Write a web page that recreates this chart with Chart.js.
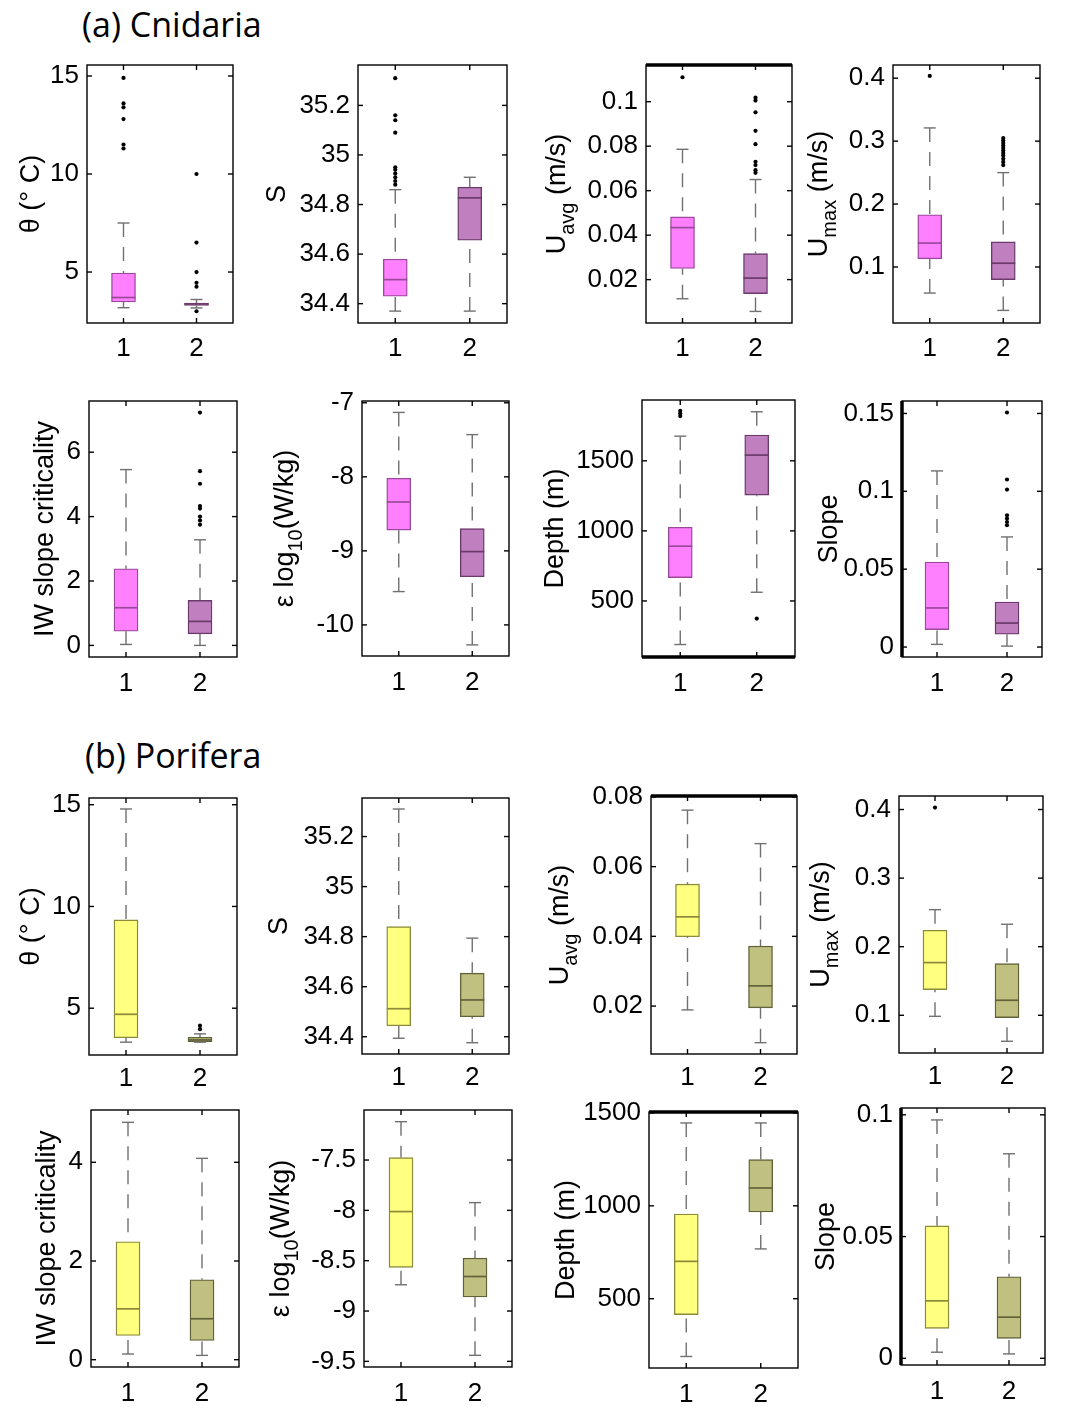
<!DOCTYPE html>
<html>
<head>
<meta charset="utf-8">
<script src="https://cdn.jsdelivr.net/npm/chart.js@4"></script>
<style>
    body { margin: 0; background: #fff; width: 1077px; height: 1407px; position: relative; overflow: hidden; }
    canvas { position: absolute; }
    .head { position: absolute; font-family: 'Open Sans', sans-serif; font-size: 34px; line-height: 40px; color: #000; white-space: nowrap; }
</style>
</head>
<body>
<div class="head" style="left:82px;top:4px">(a) Cnidaria</div>
<div class="head" style="left:85px;top:735px">(b) Porifera</div>
<script>
const groups = ['1', '2'];

// each box: [lower whisker, q1, median, q3, upper whisker]
// (a) Cnidaria
const aThetaBox = [[3.18, 3.47, 3.7, 4.95, 7.5], [3.17, 3.3, 3.37, 3.42, 3.6]];
const aThetaOut = [[14.9, 13.6, 13.4, 12.8, 11.5, 11.3], [10.0, 6.5, 5.0, 4.45, 4.25, 3.0]];
const aThetaTicks = [5, 10, 15];

const aSalBox = [[34.37, 34.43, 34.497, 34.58, 34.86], [34.37, 34.656, 34.827, 34.87, 34.91]];
const aSalOut = [[35.31, 35.16, 35.14, 35.09, 34.95, 34.94, 34.925, 34.91, 34.895, 34.88], []];
const aSalTicks = [34.4, 34.6, 34.8, 35, 35.2];

const aUavgBox = [[0.0114, 0.025, 0.0434, 0.0482, 0.0786], [0.0057, 0.0137, 0.0207, 0.0317, 0.065]];
const aUavgOut = [[0.111], [0.1018, 0.1005, 0.0952, 0.0869, 0.0809, 0.073, 0.0715, 0.0692, 0.068]];
const aUavgTicks = [0.02, 0.04, 0.06, 0.08, 0.1];

const aUmaxBox = [[0.0586, 0.113, 0.138, 0.183, 0.321], [0.031, 0.08, 0.106, 0.14, 0.25]];
const aUmaxOut = [[0.4037], [0.305, 0.301, 0.297, 0.293, 0.289, 0.285, 0.281, 0.277, 0.272, 0.267, 0.262]];
const aUmaxTicks = [0.1, 0.2, 0.3, 0.4];

const aIwBox = [[0.03, 0.44, 1.17, 2.38, 5.46], [0.0, 0.36, 0.745, 1.4, 3.28]];
const aIwOut = [[], [7.23, 5.41, 5.02, 4.33, 4.25, 4.0, 3.88, 3.75]];
const aIwTicks = [0, 2, 4, 6];

const aEpsBox = [[-9.55, -8.72, -8.34, -8.02, -7.13], [-10.27, -9.35, -9.01, -8.7, -7.43]];
const aEpsOut = [[], []];
const aEpsTicks = [-10, -9, -8, -7];

const aDepthBox = [[189, 667, 891, 1026, 1676], [562, 1255, 1541, 1684, 1850]];
const aDepthOut = [[1857, 1838, 1819], [374]];
const aDepthTicks = [500, 1000, 1500];

const aSlopeBox = [[0.0017, 0.0112, 0.0251, 0.0546, 0.1131], [0.0006, 0.0082, 0.0154, 0.0289, 0.0707]];
const aSlopeOut = [[], [0.1506, 0.1076, 0.1011, 0.0846, 0.0825, 0.0803, 0.0782]];
const aSlopeTicks = [0, 0.05, 0.1, 0.15];

// (b) Porifera
const bThetaBox = [[3.33, 3.55, 4.7, 9.34, 14.79], [3.33, 3.36, 3.44, 3.57, 3.74]];
const bThetaOut = [[], [4.14, 3.97]];
const bThetaTicks = [5, 10, 15];

const bSalBox = [[34.394, 34.444, 34.512, 34.84, 35.31], [34.376, 34.48, 34.547, 34.654, 34.794]];
const bSalOut = [[], []];
const bSalTicks = [34.4, 34.6, 34.8, 35, 35.2];

const bUavgBox = [[0.0189, 0.0399, 0.0456, 0.055, 0.0762], [0.0095, 0.0195, 0.0258, 0.0372, 0.0666]];
const bUavgOut = [[], []];
const bUavgTicks = [0.02, 0.04, 0.06, 0.08];

const bUmaxBox = [[0.0985, 0.1375, 0.1768, 0.224, 0.254], [0.0621, 0.0966, 0.1219, 0.1754, 0.2327]];
const bUmaxOut = [[0.4028], []];
const bUmaxTicks = [0.1, 0.2, 0.3, 0.4];

const bIwBox = [[0.115, 0.49, 1.03, 2.39, 4.81], [0.087, 0.39, 0.83, 1.62, 4.08]];
const bIwOut = [[], []];
const bIwTicks = [0, 2, 4];

const bEpsBox = [[-8.739, -8.567, -8.012, -7.476, -7.119], [-9.44, -8.861, -8.657, -8.474, -7.923]];
const bEpsOut = [[], []];
const bEpsTicks = [-9.5, -9, -8.5, -8, -7.5];

const bDepthBox = [[189, 414, 701, 956, 1446], [768, 967, 1096, 1249, 1446]];
const bDepthOut = [[], []];
const bDepthTicks = [500, 1000, 1500];

const bSlopeBox = [[0.0025, 0.0123, 0.0236, 0.0544, 0.0979], [0.0018, 0.0082, 0.0169, 0.0335, 0.084]];
const bSlopeOut = [[], []];
const bSlopeTicks = [0, 0.05, 0.1];

// colours
const cnidFill = ['#ff80ff', '#c080c0'];
const cnidEdge = ['#9a4a9a', '#6a3a6a'];
const porFill = ['#ffff80', '#c0c080'];
const porEdge = ['#8a8a3a', '#62623a'];

// axis titles: [text, isSubscript]
const tTheta = [['θ (° C)']];
const tSal = [['S']];
const tUavg = [['U'], ['avg', 1], [' (m/s)']];
const tUmax = [['U'], ['max', 1], [' (m/s)']];
const tIw = [['IW slope criticality']];
const tEps = [['ε log'], ['10', 1], ['(W/kg)']];
const tDepth = [['Depth (m)']];
const tSlope = [['Slope']];

// plot frame rect [left, top, right, bottom] in page px
const panels = [
    { box: aThetaBox, out: aThetaOut, ticks: aThetaTicks, min: 2.4, max: 15.56, title: tTheta, rect: [87, 65, 233, 323], dx: -55, xpad: 10, fill: cnidFill, edge: cnidEdge },
    { box: aSalBox, out: aSalOut, ticks: aSalTicks, min: 34.322, max: 35.363, title: tSal, rect: [358, 65, 507, 323], dx: -80, xpad: 10, fill: cnidFill, edge: cnidEdge },
    { box: aUavgBox, out: aUavgOut, ticks: aUavgTicks, min: 0.0005, max: 0.1165, title: tUavg, rect: [646, 65, 792, 323], dx: -88, xpad: 10, fill: cnidFill, edge: cnidEdge, thick: 'top' },
    { box: aUmaxBox, out: aUmaxOut, ticks: aUmaxTicks, min: 0.011, max: 0.421, title: tUmax, rect: [893, 65, 1040, 323], dx: -73, xpad: 10, fill: cnidFill, edge: cnidEdge },
    { box: aIwBox, out: aIwOut, ticks: aIwTicks, min: -0.36, max: 7.59, title: tIw, rect: [89, 401, 237, 657], dx: -43, xpad: 11, fill: cnidFill, edge: cnidEdge },
    { box: aEpsBox, out: aEpsOut, ticks: aEpsTicks, min: -10.42, max: -6.976, title: tEps, rect: [362, 401, 509, 656], dx: -76, xpad: 11, fill: cnidFill, edge: cnidEdge },
    { box: aDepthBox, out: aDepthOut, ticks: aDepthTicks, min: 100, max: 1934, title: tDepth, rect: [642, 400, 795, 657], dx: -86, xpad: 11, fill: cnidFill, edge: cnidEdge, thick: 'bottom' },
    { box: aSlopeBox, out: aSlopeOut, ticks: aSlopeTicks, min: -0.0064, max: 0.158, title: tSlope, rect: [902, 401, 1042, 657], dx: -72, xpad: 11, fill: cnidFill, edge: cnidEdge, thick: 'left' },
    { box: bThetaBox, out: bThetaOut, ticks: bThetaTicks, min: 2.7, max: 15.33, title: tTheta, rect: [89, 798, 237, 1055], dx: -57, xpad: 8, fill: porFill, edge: porEdge },
    { box: bSalBox, out: bSalOut, ticks: bSalTicks, min: 34.331, max: 35.354, title: tSal, rect: [362, 798, 509, 1054], dx: -82, xpad: 8, fill: porFill, edge: porEdge },
    { box: bUavgBox, out: bUavgOut, ticks: bUavgTicks, min: 0.00625, max: 0.08026, title: tUavg, rect: [651, 796, 797, 1054], dx: -90, xpad: 8, fill: porFill, edge: porEdge, thick: 'top' },
    { box: bUmaxBox, out: bUmaxOut, ticks: bUmaxTicks, min: 0.045, max: 0.4197, title: tUmax, rect: [899, 796, 1043, 1053], dx: -77, xpad: 8, fill: porFill, edge: porEdge },
    { box: bIwBox, out: bIwOut, ticks: bIwTicks, min: -0.148, max: 5.06, title: tIw, rect: [91, 1110, 239, 1367], dx: -43, xpad: 11, fill: porFill, edge: porEdge },
    { box: bEpsBox, out: bEpsOut, ticks: bEpsTicks, min: -9.556, max: -7.003, title: tEps, rect: [364, 1110, 512, 1367], dx: -82, xpad: 11, fill: porFill, edge: porEdge },
    { box: bDepthBox, out: bDepthOut, ticks: bDepthTicks, min: 127, max: 1505, title: tDepth, rect: [649, 1112, 798, 1368], dx: -82, xpad: 11, fill: porFill, edge: porEdge, thick: 'top' },
    { box: bSlopeBox, out: bSlopeOut, ticks: bSlopeTicks, min: -0.00275, max: 0.1028, title: tSlope, rect: [901, 1108, 1045, 1365], dx: -74, xpad: 11, fill: porFill, edge: porEdge, thick: 'left' },
];

const YW = 115, PT = 25, PR = 10, XH = 45;
const FONT = '"Liberation Sans", Arial, sans-serif';

function line(ctx, x1, y1, x2, y2) {
    ctx.beginPath();
    ctx.moveTo(x1, y1);
    ctx.lineTo(x2, y2);
    ctx.stroke();
}

function makePanel(p) {
    const [l, t, r, b] = p.rect;
    const cv = document.createElement('canvas');
    cv.width = r - l + YW + PR;
    cv.height = b - t + PT + XH;
    cv.style.left = (l - YW) + 'px';
    cv.style.top = (t - PT) + 'px';
    document.body.appendChild(cv);

    const outPoints = p.out.flatMap((arr, i) => arr.map(v => ({ x: groups[i], y: v })));

    // whiskers, medians, frame, inner ticks and y title
    const boxParts = {
        id: 'boxParts',
        afterDatasetsDraw(chart) {
            const { ctx, chartArea: a, scales: { x, y } } = chart;
            const bars = chart.getDatasetMeta(0).data;
            ctx.save();
            p.box.forEach((s, i) => {
                const cx = x.getPixelForValue(i);
                const half = bars[i].width / 2;
                ctx.strokeStyle = '#707070';
                ctx.lineWidth = 1.4;
                ctx.setLineDash([14, 10]);
                line(ctx, cx, y.getPixelForValue(s[4]), cx, y.getPixelForValue(s[3]));
                line(ctx, cx, y.getPixelForValue(s[0]), cx, y.getPixelForValue(s[1]));
                ctx.setLineDash([]);
                line(ctx, cx - 6, y.getPixelForValue(s[4]), cx + 6, y.getPixelForValue(s[4]));
                line(ctx, cx - 6, y.getPixelForValue(s[0]), cx + 6, y.getPixelForValue(s[0]));
                ctx.strokeStyle = p.edge[i];
                ctx.lineWidth = 1.7;
                const ym = y.getPixelForValue(s[2]);
                line(ctx, cx - half, ym, cx + half, ym);
            });

            ctx.strokeStyle = '#000';
            ctx.lineWidth = 1.4;
            ctx.strokeRect(a.left, a.top, a.right - a.left, a.bottom - a.top);
            y.ticks.forEach(tk => {
                const py = y.getPixelForValue(tk.value);
                line(ctx, a.left, py, a.left + 5, py);
                line(ctx, a.right - 5, py, a.right, py);
            });
            groups.forEach((g, i) => {
                const px = x.getPixelForValue(i);
                line(ctx, px, a.bottom, px, a.bottom - 5);
                line(ctx, px, a.top, px, a.top + 5);
            });
            if (p.thick) {
                ctx.lineWidth = 3.5;
                if (p.thick === 'top') line(ctx, a.left, a.top, a.right, a.top);
                if (p.thick === 'bottom') line(ctx, a.left, a.bottom, a.right, a.bottom);
                if (p.thick === 'left') line(ctx, a.left, a.top, a.left, a.bottom);
            }

            // y title, rotated, with subscripts
            ctx.translate(a.left + p.dx, (a.top + a.bottom) / 2);
            ctx.rotate(-Math.PI / 2);
            ctx.fillStyle = '#000';
            ctx.textBaseline = 'middle';
            ctx.textAlign = 'left';
            const main = '27px ' + FONT, sub = '20px ' + FONT;
            let total = 0;
            p.title.forEach(pt => {
                ctx.font = pt[1] ? sub : main;
                total += ctx.measureText(pt[0]).width;
            });
            let cx = -total / 2;
            p.title.forEach(pt => {
                ctx.font = pt[1] ? sub : main;
                ctx.fillText(pt[0], cx, pt[1] ? 10 : 0);
                cx += ctx.measureText(pt[0]).width;
            });
            ctx.restore();
        }
    };

    new Chart(cv, {
        type: 'bar',
        data: {
            labels: groups,
            datasets: [{
                type: 'bar',
                data: p.box.map(s => [s[1], s[3]]),
                backgroundColor: p.fill,
                borderColor: p.edge,
                borderWidth: 1.4,
                borderSkipped: false,
                barThickness: 24,
                order: 2
            }, {
                type: 'scatter',
                data: outPoints,
                pointRadius: 2.1,
                pointBackgroundColor: '#000',
                pointBorderWidth: 0,
                order: 1
            }]
        },
        options: {
            responsive: false,
            animation: false,
            layout: { padding: { left: 0, top: PT, right: PR, bottom: 0 } },
            plugins: {
                legend: { display: false },
                tooltip: { enabled: false }
            },
            scales: {
                x: {
                    type: 'category',
                    grid: { display: false, drawTicks: false },
                    border: { display: false },
                    ticks: { color: '#000', font: { family: FONT, size: 26 }, padding: p.xpad, maxRotation: 0 },
                    afterFit: s => { s.height = XH; }
                },
                y: {
                    type: 'linear',
                    min: p.min,
                    max: p.max,
                    grid: { display: false, drawTicks: false },
                    border: { display: false },
                    ticks: {
                        color: '#000',
                        font: { family: FONT, size: 26 },
                        padding: 8,
                        autoSkip: false,
                        callback: v => String(v)
                    },
                    afterBuildTicks: s => { s.ticks = p.ticks.map(v => ({ value: v })); },
                    afterFit: s => { s.width = YW; }
                }
            }
        },
        plugins: [boxParts]
    });
}

panels.forEach(makePanel);
</script>
</body>
</html>
